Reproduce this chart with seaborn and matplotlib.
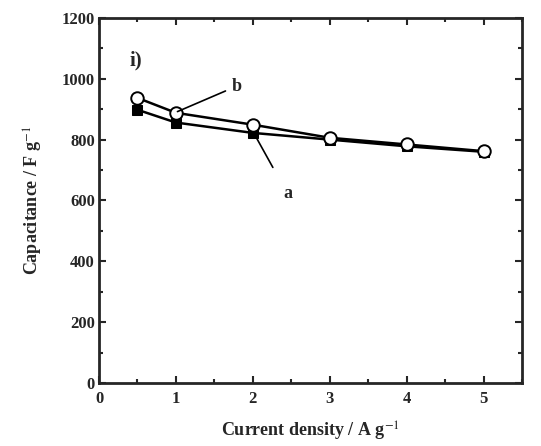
import matplotlib
matplotlib.use("Agg")
import matplotlib.pyplot as plt
import seaborn as sns
import pandas as pd
from matplotlib.ticker import MultipleLocator

current = [0.5, 1, 2, 3, 4, 5]
cap_a = [898, 856, 822, 800, 778, 760]
cap_b = [937, 888, 849, 806, 784, 762]

sns.set_theme(style="ticks")
plt.rcParams['font.family'] = ['Liberation Serif', 'DejaVu Serif']
plt.rcParams['mathtext.fontset'] = 'stix'

df = pd.DataFrame({
    "x": current * 2,
    "y": cap_a + cap_b,
    "s": ["a"] * len(current) + ["b"] * len(current),
})

fig = plt.figure(figsize=(5.41, 4.46), dpi=100)
ax = fig.add_axes([0.183, 0.141, 0.782, 0.819])

sns.lineplot(data=df[df.s == "a"], x="x", y="y", ax=ax, color="black", lw=1.8,
             marker="s", markersize=7, markerfacecolor="black", markeredgecolor="black")
sns.lineplot(data=df[df.s == "b"], x="x", y="y", ax=ax, color="black", lw=1.8,
             marker="o", markersize=9, markerfacecolor="white", markeredgecolor="black",
             markeredgewidth=1.4)

ax.set_xlim(0, 5.5)
ax.set_ylim(0, 1200)
ax.xaxis.set_major_locator(MultipleLocator(1))
ax.xaxis.set_minor_locator(MultipleLocator(0.5))
ax.yaxis.set_major_locator(MultipleLocator(200))
ax.yaxis.set_minor_locator(MultipleLocator(100))
ax.tick_params(which="both", direction="in", top=True, right=True, width=1.5, labelsize=12)
ax.tick_params(which="major", length=5)
ax.tick_params(which="minor", length=3)
ax.tick_params(axis="x", pad=6)
ax.tick_params(axis="y", pad=3)
for sp in ax.spines.values():
    sp.set_linewidth(2)
for lab in ax.get_xticklabels() + ax.get_yticklabels():
    lab.set_fontweight("bold")

ax.set_xlabel("Current density / A g$^{-1}$", fontsize=13, fontweight="bold", labelpad=9)
ax.set_ylabel("Capacitance / F g$^{-1}$", fontsize=13, fontweight="bold", labelpad=12)

ax.annotate("b", xy=(1.02, 892), xytext=(1.72, 975), fontsize=13, fontweight="bold",
            ha="left", va="center",
            arrowprops=dict(arrowstyle="-", color="black", lw=1.2, shrinkA=2, shrinkB=0))
ax.annotate("a", xy=(2.02, 818), xytext=(2.45, 650), fontsize=13, fontweight="bold",
            ha="center", va="top",
            arrowprops=dict(arrowstyle="-", color="black", lw=1.2, shrinkA=12, shrinkB=0))
ax.text(0.4, 1060, "i)", fontsize=15, fontweight="bold", ha="left", va="center")

fig.savefig("out.png", dpi=100)
